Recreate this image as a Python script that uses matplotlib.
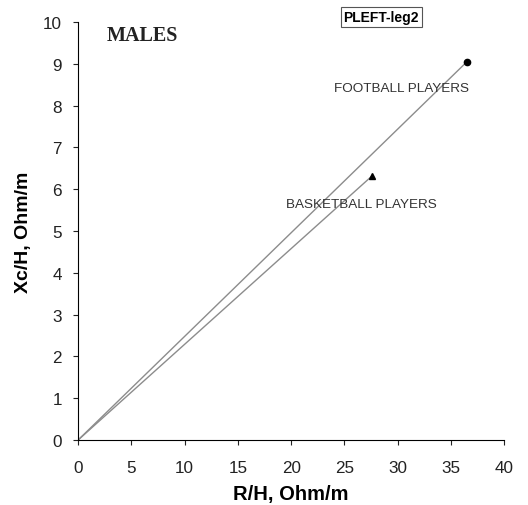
from matplotlib import pyplot

# endpoints of the two lines (start at origin)
groups = ['FOOTBALL PLAYERS', 'BASKETBALL PLAYERS']
rh_values = [36.5, 27.6]
xch_values = [9.05, 6.32]
markers = ['o', '^']
label_x = [30.4, 26.6]
label_y = [8.42, 5.65]

x_ticks = [0, 5, 10, 15, 20, 25, 30, 35, 40]
y_ticks = [0, 1, 2, 3, 4, 5, 6, 7, 8, 9, 10]

pyplot.rcParams['font.family'] = ['Liberation Sans', 'DejaVu Sans']

fig = pyplot.figure(figsize=(5.28, 5.06), dpi=100)
ax = fig.add_axes([0.148, 0.1285, 0.807, 0.826])

for name, rx, xy, m, lx, ly in zip(groups, rh_values, xch_values, markers, label_x, label_y):
    ax.plot([0, rx], [0, xy], color='#8c8c8c', linewidth=1.0)
    ax.plot([rx], [xy], marker=m, color='black', markersize=4.5, linestyle='none')
    ax.text(lx, ly, name, ha='center', va='center', fontsize=9.7, color='#333333')

ax.text(2.7, 9.69, 'MALES', family='Liberation Serif', fontweight='bold',
        fontsize=14.5, color='#222222', ha='left', va='center')

fig.text(0.722, 0.964, 'PLEFT-leg2', fontsize=10, fontweight='bold', ha='center', va='center',
         bbox=dict(boxstyle='square,pad=0.2', facecolor='white', edgecolor='#555555', linewidth=0.8))

ax.set_xlim(0, 40)
ax.set_ylim(0, 10)
ax.set_xticks(x_ticks)
ax.set_yticks(y_ticks)
ax.tick_params(labelsize=12.3, direction='out', length=3.6, width=0.8, colors='#222222')
ax.tick_params(axis='x', pad=11)
ax.tick_params(axis='y', pad=8)
ax.spines['top'].set_visible(False)
ax.spines['right'].set_visible(False)
ax.set_xlabel('R/H, Ohm/m', fontsize=14.5, fontweight='bold', labelpad=6)
ax.set_ylabel('Xc/H, Ohm/m', fontsize=14, fontweight='bold', labelpad=8)

pyplot.savefig('out.png', dpi=100)
